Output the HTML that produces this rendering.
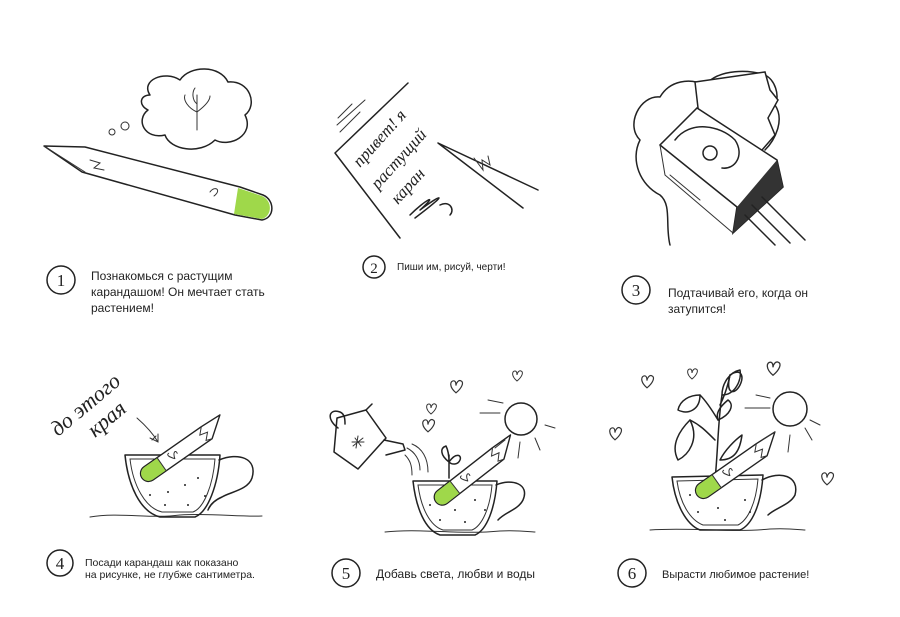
<!DOCTYPE html>
<html><head><meta charset="utf-8"><style>
html,body{margin:0;padding:0;background:#fff;}
svg{display:block}
text{font-family:"Liberation Sans",sans-serif;fill:#222}
.n{font-family:"Liberation Serif",serif;font-size:17px;text-anchor:middle}
.s{fill:none;stroke:#222;stroke-width:1.5;stroke-linecap:round;stroke-linejoin:round}
.t{fill:none;stroke:#333;stroke-width:1;stroke-linecap:round}
.h{font-family:"Liberation Serif",serif;font-style:italic}
.d{fill:#222}
</style></head><body>
<svg width="900" height="617" viewBox="0 0 900 617">
<defs>
<g id="pen">
<path d="M8,-8 H78 L100,-7 L80,8 H8 A8,8 0 0 1 8,-8Z" fill="#fff" stroke="#222" stroke-width="1.4" stroke-linejoin="round"/>
<path d="M8,-7.5 H24 V7.5 H8 A7.5,7.5 0 0 1 8,-7.5Z" fill="#9fd84a"/>
<path class="t" d="M24,-8 V8 M78,-8 L72,-2 L80,0 L74,6 L80,8 M38,3 C40,-4 44,-4 43,0 M38,3 C34,-2 33,-5 36,-5"/>
</g>
<g id="heart"><path class="t" d="M0,4 C-6,-1 -5,-6 -2,-6 C0,-6 0,-3 0,-2 C0,-4 2,-7 4,-6 C7,-5 5,0 0,4Z"/></g>
</defs>
<!-- Step 1 drawing -->
<path class="s" d="M150,95 C140,80 165,70 180,80 C190,65 220,65 228,82 C250,80 258,105 245,115 C255,135 230,148 215,140 C200,155 170,150 165,135 C145,140 135,120 148,110 C138,105 140,95 150,95Z"/>
<path class="t" d="M197,130 L197,95 M197,112 C188,108 183,100 185,95 M197,112 C205,106 210,100 210,96 M197,104 C192,100 192,92 195,88"/>
<circle class="t" cx="125" cy="126" r="4"/><circle class="t" cx="112" cy="132" r="3"/>
<path class="s" d="M44,146 L85,147 L240,187 L263,195 C275,200 275,218 262,220 L235,215 L82,172 Z"/>
<path fill="#9fd84a" d="M238,188 L262,196 C273,201 272,216 262,219 L234,214 Z"/>
<path class="t" d="M44,146 L85,172 M90,160 L100,163 L94,168 L104,170 M210,192 C215,185 222,190 214,196"/>
<!-- Step 2 drawing -->
<path class="s" d="M408,83 L335,153 L400,238"/>
<path class="t" d="M337,125 L365,100 M340,132 L360,112 M338,118 L352,104"/>
<text class="h" x="360" y="168" transform="rotate(-48 360 168)" font-size="17">привет! я</text>
<text class="h" x="378" y="190" transform="rotate(-48 378 190)" font-size="17">растущий</text>
<text class="h" x="398" y="205" transform="rotate(-48 398 205)" font-size="17">каран</text>
<path class="s" d="M538,190 L438,143 L523,208"/>
<path class="t" d="M474,158 L483,170 L482,160 L490,165 L488,156"/>
<path class="s" d="M410,215 C425,200 440,192 420,210 C440,195 452,190 415,218 M440,205 C450,200 455,210 450,215"/>
<!-- Step 3 drawing -->
<path class="s" d="M670,245 C665,225 672,205 660,195 C640,185 630,160 640,140 C625,125 640,95 660,97 C670,80 690,78 705,85 C720,68 750,70 765,75 C775,80 780,95 775,105 C785,120 775,140 765,150"/>
<path d="M695,82 L765,72 L770,90 L778,100 L768,118 L775,135 L762,150 L745,160 L700,125 Z" fill="#fff" stroke="#222" stroke-width="1.5"/>
<path d="M660,145 L737,207 L733,233 L783,187 L777,160 L697,108 Z" fill="#fff" stroke="#222" stroke-width="1.5"/>
<path d="M737,207 L777,160 L783,187 L733,233 Z" fill="#333"/>
<path class="t" d="M660,145 L665,175 L733,233 M670,175 L700,200"/>
<path class="s" d="M675,140 C690,120 720,125 735,140 C745,155 735,170 722,168"/>
<circle class="s" cx="710" cy="153" r="7"/>
<path class="s" d="M752,205 L790,243 M762,197 L805,240 M745,215 L775,245"/>

<!-- Step 4 drawing -->
<path class="t" d="M90,517 C120,512 150,519 180,515 C210,513 240,517 262,516"/>
<path class="s" d="M125,455 L220,455 C218,485 208,512 195,517 L160,517 C140,512 128,485 125,455 Z"/>
<path class="t" d="M130,459 L215,459 C213,485 204,508 193,512 L162,512 C145,508 133,485 130,459Z"/>
<path class="s" d="M219,460 C238,452 258,458 252,478 C248,490 230,492 222,497 C215,500 210,505 208,510"/>
<g class="d"><circle cx="145" cy="478" r="1"/><circle cx="168" cy="492" r="1"/><circle cx="185" cy="485" r="1"/><circle cx="198" cy="478" r="1"/><circle cx="150" cy="495" r="1"/><circle cx="165" cy="505" r="1"/><circle cx="188" cy="505" r="1"/><circle cx="205" cy="496" r="1"/></g>
<use href="#pen" transform="translate(142,478) rotate(-35)"/>
<path class="t" d="M137,418 C145,425 152,432 158,442 M150,438 L158,442 L158,434 M152,440 L156,436"/>
<text class="h" x="58" y="437" transform="rotate(-40 58 437)" font-size="22">до этого</text>
<text class="h" x="95" y="438" transform="rotate(-40 95 438)" font-size="22">края</text>

<!-- Step 5 drawing -->
<path class="t" d="M385,532 C420,528 460,535 500,531 C520,530 530,532 535,532"/>
<path class="s" d="M413,481 L497,481 C495,508 487,530 475,535 L440,535 C425,530 416,508 413,481Z"/>
<path class="t" d="M418,485 L492,485 C490,508 482,526 472,530 L443,530 C430,526 421,508 418,485Z"/>
<path class="s" d="M496,485 C512,478 530,484 523,500 C518,510 505,512 498,520"/>
<g class="d"><circle cx="430" cy="505" r="1"/><circle cx="455" cy="510" r="1"/><circle cx="475" cy="500" r="1"/><circle cx="440" cy="520" r="1"/><circle cx="465" cy="522" r="1"/><circle cx="485" cy="510" r="1"/></g>
<path class="s" d="M449,478 L449,455 M449,462 C440,455 440,448 446,446 C448,450 449,455 449,462 M449,462 C456,452 462,455 460,460 C458,465 452,465 449,462"/>
<use href="#pen" transform="translate(436,502) rotate(-38)"/>
<path class="s" d="M337,418 L366,410 L386,438 L358,469 L334,452 Z"/>
<path class="s" d="M338,428 C325,418 330,408 340,412 C345,414 345,420 345,424 M366,410 L372,404 M384,440 L403,444 L405,450 L386,455"/>
<path class="t" d="M355,438 L361,446 M358,436 L356,448 M352,442 L364,442 M353,446 L363,438"/>
<path class="t" d="M407,448 C415,452 420,460 420,470 M412,444 C422,448 428,458 428,472 M405,455 C410,460 412,465 412,475"/>
<circle class="s" cx="521" cy="419" r="16"/>
<path class="t" d="M480,413 L500,413 M488,400 L503,403 M505,440 L495,448 M520,442 L518,458 M535,438 L540,450 M545,425 L555,428"/>
<use href="#heart" transform="translate(456,388) scale(1.2)"/>
<use href="#heart" transform="translate(517,377)"/>
<use href="#heart" transform="translate(431,410)"/>
<use href="#heart" transform="translate(428,427) scale(1.2)"/>

<!-- Step 6 drawing -->
<path class="t" d="M650,530 C690,527 730,533 770,529 C790,528 800,530 805,530"/>
<path class="s" d="M672,477 L763,475 C761,505 752,525 740,530 L700,530 C687,525 675,505 672,477Z"/>
<path class="t" d="M677,481 L758,479 C756,503 748,520 738,525 L703,525 C690,520 680,503 677,481Z"/>
<path class="s" d="M762,480 C780,470 800,476 795,495 C790,505 775,508 768,515"/>
<g class="d"><circle cx="690" cy="495" r="1"/><circle cx="718" cy="508" r="1"/><circle cx="745" cy="500" r="1"/><circle cx="698" cy="512" r="1"/><circle cx="725" cy="520" r="1"/><circle cx="750" cy="512" r="1"/></g>
<path class="s" d="M715,480 C718,450 718,420 722,395 M715,440 C705,430 700,425 690,420 M718,420 C712,410 705,400 700,395 M720,405 C725,395 728,385 730,375"/>
<path class="s" d="M690,420 C680,430 670,445 678,460 C688,455 700,440 690,420Z M700,395 C690,395 680,400 678,410 C688,415 700,410 700,395Z M730,375 C740,368 745,375 740,385 C735,395 725,395 730,375Z M718,420 C730,415 735,405 728,400 C722,405 715,412 718,420Z M722,395 C735,395 742,380 740,370 C730,372 722,383 722,395Z M720,460 C725,450 735,440 742,435 C740,450 735,460 720,460Z"/>
<use href="#pen" transform="translate(697,495) rotate(-35)"/>
<circle class="s" cx="790" cy="409" r="17"/>
<path class="t" d="M745,408 L770,408 M756,395 L770,398 M775,432 L762,440 M790,435 L788,452 M805,428 L812,440 M810,420 L820,425"/>
<use href="#heart" transform="translate(647,383) scale(1.2)"/>
<use href="#heart" transform="translate(773,370) scale(1.3)"/>
<use href="#heart" transform="translate(615,435) scale(1.2)"/>
<use href="#heart" transform="translate(827,480) scale(1.2)"/>
<use href="#heart" transform="translate(692,375)"/>

<!-- Number circles -->
<circle class="s" cx="61" cy="280" r="14"/><text class="n" x="61" y="286">1</text>
<circle class="s" cx="374" cy="267" r="11"/><text class="n" x="374" y="273" style="font-size:15px">2</text>
<circle class="s" cx="636" cy="290" r="14"/><text class="n" x="636" y="296">3</text>
<circle class="s" cx="60" cy="563" r="13"/><text class="n" x="60" y="569">4</text>
<circle class="s" cx="346" cy="573" r="14"/><text class="n" x="346" y="579">5</text>
<circle class="s" cx="632" cy="573" r="14"/><text class="n" x="632" y="579">6</text>
<!-- Texts -->
<text font-size="12" x="91" y="280">Познакомься с растущим</text>
<text font-size="12" x="91" y="296">карандашом! Он мечтает стать</text>
<text font-size="12" x="91" y="312">растением!</text>
<text font-size="10" x="397" y="270">Пиши им, рисуй, черти!</text>
<text font-size="12" x="668" y="297">Подтачивай его, когда он</text>
<text font-size="12" x="668" y="313">затупится!</text>
<text font-size="10.5" x="85" y="566">Посади карандаш как показано</text>
<text font-size="10.5" x="85" y="578">на рисунке, не глубже сантиметра.</text>
<text font-size="12" x="376" y="578">Добавь света, любви и воды</text>
<text font-size="11" x="662" y="578">Вырасти любимое растение!</text>
</svg>
</body></html>
